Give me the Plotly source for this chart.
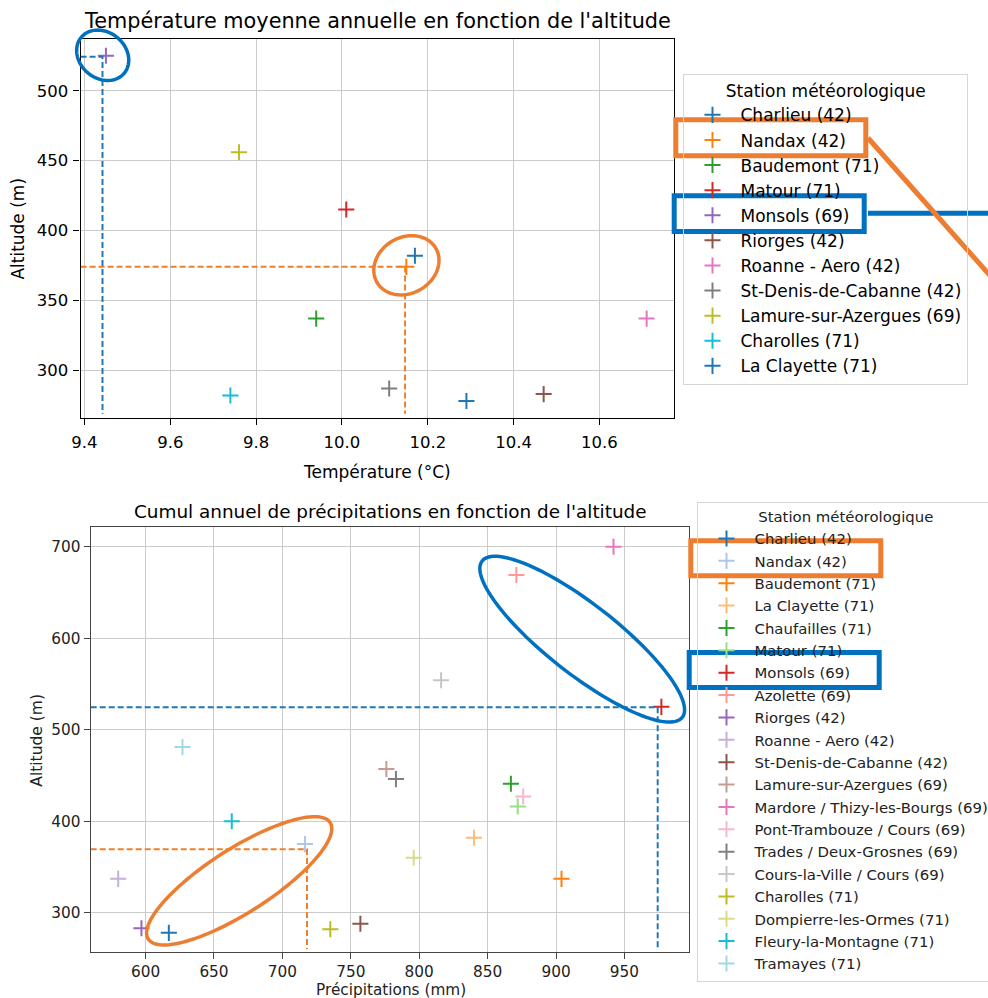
import numpy as np
import plotly.graph_objects as go

W, H = 988, 998
FONT = "DejaVu Sans"

# ---------------- Data : température vs altitude ----------------
temp_stations = ["Charlieu (42)", "Nandax (42)", "Baudemont (71)", "Matour (71)", "Monsols (69)",
                 "Riorges (42)", "Roanne - Aero (42)", "St-Denis-de-Cabanne (42)",
                 "Lamure-sur-Azergues (69)", "Charolles (71)", "La Clayette (71)"]
temp_values = [10.29, 10.15, 9.94, 10.01, 9.45, 10.47, 10.71, 10.11, 9.76, 9.74, 10.17]
temp_altitudes = [278, 374, 337, 415, 525, 283, 337, 287, 456, 282, 382]
temp_colors = ["#1f77b4", "#ff7f0e", "#2ca02c", "#d62728", "#9467bd", "#8c564b",
               "#e377c2", "#7f7f7f", "#bcbd22", "#17becf", "#1f77b4"]
temp_xticks = [9.4, 9.6, 9.8, 10.0, 10.2, 10.4, 10.6]
temp_yticks = [300, 350, 400, 450, 500]
temp_xrange = [9.391, 10.773]
temp_yrange = [266.1, 536.8]
# guides (dashed lines) : Monsols (blue) and Nandax (orange)
temp_guide_blue = (9.442, 524.3)
temp_guide_orange = (10.147, 374.0)
temp_guide_floor = 269

# ---------------- Data : précipitations vs altitude ----------------
precip_stations = ["Charlieu (42)", "Nandax (42)", "Baudemont (71)", "La Clayette (71)", "Chaufailles (71)",
                   "Matour (71)", "Monsols (69)", "Azolette (69)", "Riorges (42)", "Roanne - Aero (42)",
                   "St-Denis-de-Cabanne (42)", "Lamure-sur-Azergues (69)", "Mardore / Thizy-les-Bourgs (69)",
                   "Pont-Trambouze / Cours (69)", "Trades / Deux-Grosnes (69)", "Cours-la-Ville / Cours (69)",
                   "Charolles (71)", "Dompierre-les-Ormes (71)", "Fleury-la-Montagne (71)", "Tramayes (71)"]
precip_values = [617, 716.5, 904, 840, 867, 872, 977, 871, 597, 580,
                 757, 776, 942, 876, 783, 816, 735, 796, 663, 627]
precip_altitudes = [278, 375, 337, 382, 441, 416, 525, 669, 283, 337,
                    288, 457, 700, 427, 446, 554, 282, 360, 400, 481]
precip_colors = ["#1f77b4", "#aec7e8", "#ff7f0e", "#ffbb78", "#2ca02c", "#98df8a", "#d62728", "#ff9896",
                 "#9467bd", "#c5b0d5", "#8c564b", "#c49c94", "#e377c2", "#f7b6d2", "#7f7f7f", "#c7c7c7",
                 "#bcbd22", "#dbdb8d", "#17becf", "#9edae5"]
precip_xticks = [600, 650, 700, 750, 800, 850, 900, 950]
precip_yticks = [300, 400, 500, 600, 700]
precip_xrange = [559.9, 997.4]
precip_yrange = [257.4, 721.2]
precip_guide_blue = (974.3, 524.5)
precip_guide_orange = (718.0, 369.3)
precip_guide_floor = 260

LEGEND_TITLE = "Station météorologique"
TITLE_TOP = "Température moyenne annuelle en fonction de l'altitude"
TITLE_BOT = "Cumul annuel de précipitations en fonction de l'altitude"

ANN_ORANGE = "#ED7D31"
ANN_BLUE = "#0070C0"
GUIDE_BLUE = "#1f77b4"
GUIDE_ORANGE = "#f07f2a"
MARKER_SIZE = 11.5


def px(x):
    return x / W


def py(y):
    return 1 - y / H


fig = go.Figure()

for name, xv, yv, c in zip(temp_stations, temp_values, temp_altitudes, temp_colors):
    fig.add_trace(go.Scatter(x=[xv], y=[yv], mode="markers", name=name, legend="legend",
                             marker=dict(symbol="cross-thin", size=MARKER_SIZE, color=c,
                                         line=dict(color=c, width=2)),
                             xaxis="x", yaxis="y"))

for name, xv, yv, c in zip(precip_stations, precip_values, precip_altitudes, precip_colors):
    fig.add_trace(go.Scatter(x=[xv], y=[yv], mode="markers", name=name, legend="legend2",
                             marker=dict(symbol="cross-thin", size=MARKER_SIZE, color=c,
                                         line=dict(color=c, width=2)),
                             xaxis="x2", yaxis="y2"))


def guide(xr0, g, floor, color, xa, ya):
    gx, gy = g
    fig.add_trace(go.Scatter(x=[xr0, gx, gx], y=[gy, gy, floor], mode="lines", showlegend=False,
                             hoverinfo="skip",
                             line=dict(color=color, width=2, dash="6px,3px"), xaxis=xa, yaxis=ya))


guide(temp_xrange[0], temp_guide_blue, temp_guide_floor, GUIDE_BLUE, "x", "y")
guide(temp_xrange[0], temp_guide_orange, temp_guide_floor, GUIDE_ORANGE, "x", "y")
guide(precip_xrange[0], precip_guide_blue, precip_guide_floor, GUIDE_BLUE, "x2", "y2")
guide(precip_xrange[0], precip_guide_orange, precip_guide_floor, GUIDE_ORANGE, "x2", "y2")

# ---------------- overlay annotations (hand-drawn highlights, pixel based) ----------------
shapes = []


def ellipse(cx, cy, a, b, theta_deg, color, width=3.5):
    t = np.linspace(0, 2 * np.pi, 121)
    th = np.deg2rad(theta_deg)
    xs = cx + a * np.cos(t) * np.cos(th) - b * np.sin(t) * np.sin(th)
    ys = cy + a * np.cos(t) * np.sin(th) + b * np.sin(t) * np.cos(th)
    path = "M " + " L ".join(f"{px(x):.5f},{py(y):.5f}" for x, y in zip(xs, ys)) + " Z"
    shapes.append(dict(type="path", path=path, xref="paper", yref="paper",
                       line=dict(color=color, width=width), layer="above"))


def rect(x0, y0, x1, y1, color, width=5):
    shapes.append(dict(type="rect", x0=px(x0), x1=px(x1), y0=py(y1), y1=py(y0), xref="paper", yref="paper",
                       line=dict(color=color, width=width), layer="above"))


def seg(x0, y0, x1, y1, color, width=5):
    shapes.append(dict(type="line", x0=px(x0), x1=px(x1), y0=py(y0), y1=py(y1), xref="paper", yref="paper",
                       line=dict(color=color, width=width), layer="above"))


# top chart
ellipse(102.7, 55.3, 28, 23, 40, ANN_BLUE)
ellipse(406.4, 265.3, 34, 28, -30, ANN_ORANGE)
rect(675.8, 119.8, 865.8, 155.8, ANN_ORANGE)
rect(674.2, 195.8, 864.2, 231.5, ANN_BLUE)
seg(868, 213.3, 995, 213.3, ANN_BLUE)
seg(868, 138, 994, 280, ANN_ORANGE)
# bottom chart
ellipse(582.2, 639.2, 127, 35, 38, ANN_BLUE)
ellipse(239.2, 880.8, 108, 32, -32.6, ANN_ORANGE)
rect(690.8, 540.8, 880.8, 575.8, ANN_ORANGE)
rect(689.2, 652.5, 879.2, 687.5, ANN_BLUE)

# ---------------- texts ----------------
annotations = [
    dict(text=TITLE_TOP, x=px(377.2), y=py(20.5), xref="paper", yref="paper", showarrow=False,
         xanchor="center", yanchor="middle", font=dict(family=FONT, size=20.8, color="#000")),
    dict(text="Température (°C)", x=px(377.2), y=py(472.5), xref="paper", yref="paper", showarrow=False,
         xanchor="center", yanchor="middle", font=dict(family=FONT, size=17, color="#000")),
    dict(text="Altitude (m)", x=px(18.3), y=py(228.3), xref="paper", yref="paper", showarrow=False,
         xanchor="center", yanchor="middle", textangle=-90, font=dict(family=FONT, size=17, color="#000")),
    dict(text=TITLE_BOT, x=px(390), y=py(511.5), xref="paper", yref="paper", showarrow=False,
         xanchor="center", yanchor="middle", font=dict(family=FONT, size=18.4, color="#000")),
    dict(text="Précipitations (mm)", x=px(390.5), y=py(989.5), xref="paper", yref="paper", showarrow=False,
         xanchor="center", yanchor="middle", font=dict(family=FONT, size=15.3, color="#222")),
    dict(text="Altitude (m)", x=px(36.7), y=py(740), xref="paper", yref="paper", showarrow=False,
         xanchor="center", yanchor="middle", textangle=-90, font=dict(family=FONT, size=15.5, color="#222")),
]

axis_common = dict(showgrid=True, gridcolor="#cbcbcb", gridwidth=1.2, showline=True, mirror=True,
                   ticks="outside", ticklen=6, tickwidth=1.2, zeroline=False)

fig.update_layout(
    width=W, height=H,
    margin=dict(l=0, r=0, t=0, b=0, autoexpand=False),
    paper_bgcolor="white", plot_bgcolor="white",
    font=dict(family=FONT, color="#000"),
    showlegend=True,
    xaxis=dict(domain=[px(80.6), px(673.7)], range=temp_xrange, tickvals=temp_xticks,
               ticktext=[f"{v:.1f}" for v in temp_xticks], anchor="y", ticklabelstandoff=3,
               linecolor="#000", linewidth=1.3, tickcolor="#000",
               tickfont=dict(family=FONT, size=16.5, color="#000"), **axis_common),
    yaxis=dict(domain=[py(417.7), py(39.3)], range=temp_yrange, tickvals=temp_yticks, anchor="x",
               linecolor="#000", linewidth=1.3, tickcolor="#000", ticklabelstandoff=2,
               tickfont=dict(family=FONT, size=16.5, color="#000"), **axis_common),
    xaxis2=dict(domain=[px(90.7), px(689.3)], range=precip_xrange, tickvals=precip_xticks, anchor="y2",
                linecolor="#444", linewidth=1.3, tickcolor="#444",
                tickfont=dict(family=FONT, size=15.3, color="#222"), **axis_common),
    yaxis2=dict(domain=[py(951.7), py(527.3)], range=precip_yrange, tickvals=precip_yticks, anchor="x2",
                linecolor="#444", linewidth=1.3, tickcolor="#444",
                tickfont=dict(family=FONT, size=15.3, color="#222"), **axis_common),
    legend=dict(x=px(683.3), y=py(74), xanchor="left", yanchor="top", xref="paper", yref="paper",
                bgcolor="rgba(255,255,255,0)", bordercolor="#d6d6d6", borderwidth=1.2,
                font=dict(family=FONT, size=17, color="#000"), itemwidth=46,
                title=dict(text=LEGEND_TITLE, side="top center", font=dict(family=FONT, size=17, color="#000"))),
    legend2=dict(x=px(697.3), y=py(501.7), xanchor="left", yanchor="top", xref="paper", yref="paper",
                 bgcolor="rgba(255,255,255,0)", bordercolor="#d6d6d6", borderwidth=1.2,
                 font=dict(family=FONT, size=14.9, color="#222"), itemwidth=46,
                 title=dict(text=LEGEND_TITLE, side="top center", font=dict(family=FONT, size=14.9, color="#222"))),
    shapes=shapes,
    annotations=annotations,
)

fig.write_html("out.html", config={"displayModeBar": False},
               post_script="document.body.style.margin='0px';document.body.style.overflow='hidden';")
